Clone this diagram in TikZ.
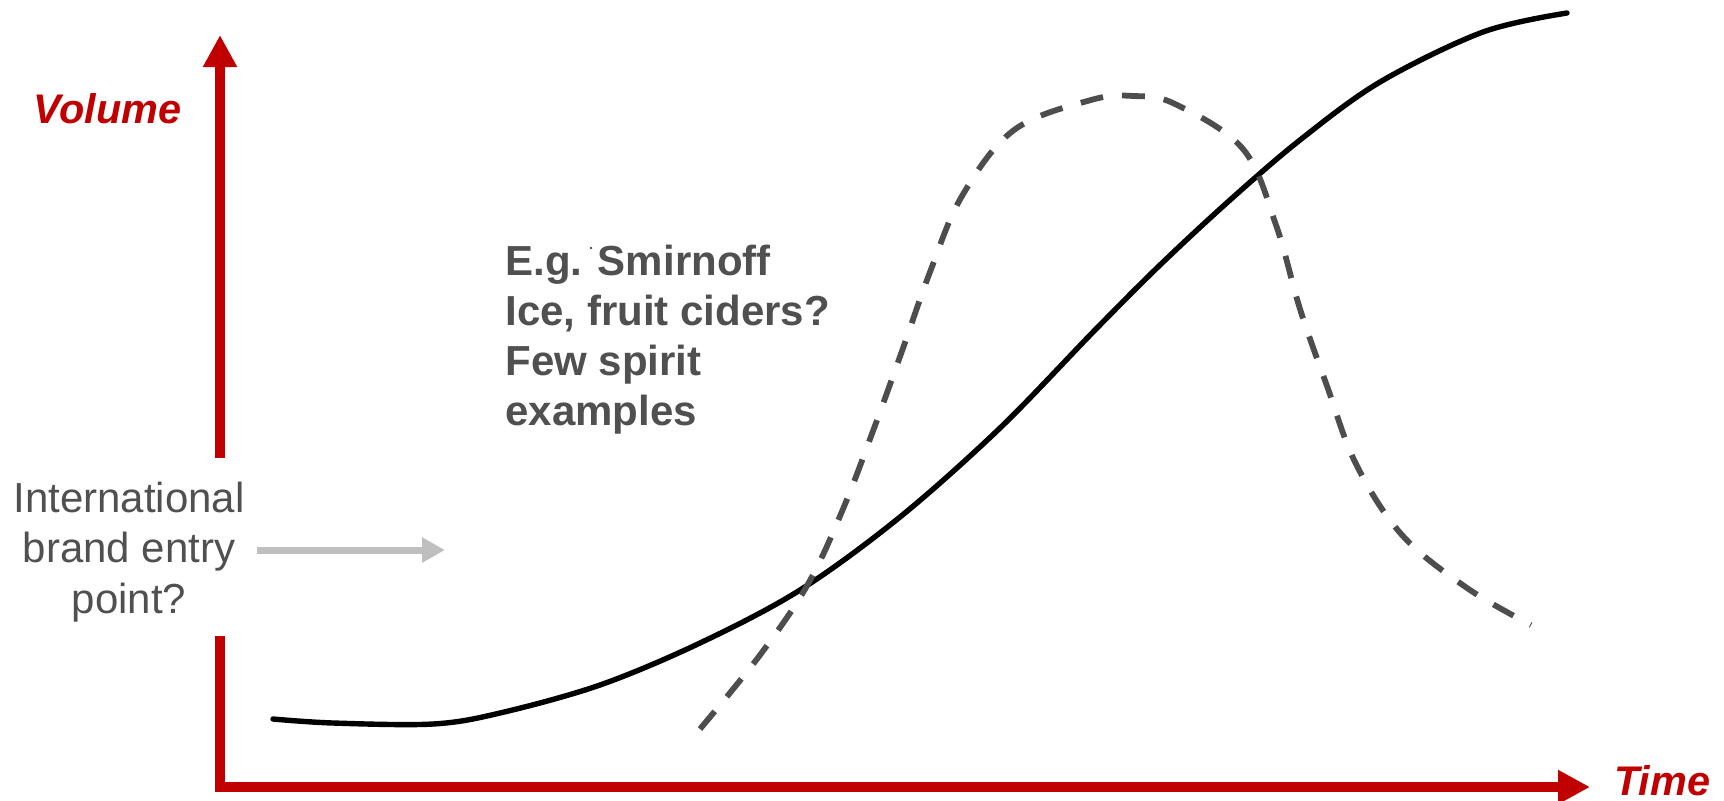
\documentclass[tikz,border=0pt]{standalone}
\usepackage{fontspec}
\setmainfont{Liberation Sans}
\usetikzlibrary{arrows.meta}
\definecolor{axisred}{HTML}{C00000}
\definecolor{txtgray}{HTML}{505050}
\definecolor{dashgray}{HTML}{4D4D4D}
\definecolor{arrgray}{HTML}{BFBFBF}
\tikzset{
  axisline/.style={draw=axisred, line width=5pt, line join=miter},
  axistip/.style={-{Triangle[length=16pt,width=16pt]}},
  axlabel/.style={text=axisred, font=\fontsize{20.7}{24}\selectfont\bfseries\itshape, inner sep=0pt},
  entrytext/.style={text=txtgray, font=\fontsize{21}{25.2}\selectfont, align=center, inner sep=0pt},
  notetext/.style={text=txtgray, font=\fontsize{21}{25}\selectfont\bfseries, align=left, inner sep=0pt},
  entryarrow/.style={draw=arrgray, line width=3.5pt, -{Triangle[length=11.5pt,width=12pt]}},
  volcurve/.style={draw=black, line width=2.7pt, line cap=round, line join=round},
  trendcurve/.style={draw=dashgray, line width=2.9pt, dash pattern=on 11.5pt off 9.5pt}
}
\begin{document}
\begin{tikzpicture}[x=0.5pt, y=-0.5pt]
\useasboundingbox (0,0) rectangle (1724,800);

% axes
\coordinate (origin) at (220,787);
\coordinate (ytip) at (220,35);
\coordinate (xtip) at (1590,787);
\coordinate (ybreaklow) at (220,636);
\coordinate (ybreakhigh) at (220,458);
\draw[axisline, axistip] (ybreaklow) -- (origin) -- (xtip);
\draw[axisline, axistip] (ybreakhigh) -- (ytip);

% axis labels
\node[axlabel, anchor=base west] (vol) at (33,123) {Volume};
\node[axlabel, anchor=base west, text depth=0pt] (time) at (1614,795) {Time};

% entry point label and arrow (base anchor = last line's baseline)
\node[entrytext, anchor=base] (entry) at (129,613) {International\\brand entry\\point?};
\coordinate (ea1) at (257,550);
\coordinate (ea2) at (445,550);
\draw[entryarrow] (ea1) -- (ea2);

% note
\node[notetext, anchor=base west] (note) at (505,425) {E.g. Smirnoff\\Ice, fruit ciders?\\Few spirit\\examples};
\fill[txtgray] (591,248) circle (1.3);

% solid volume curve
\draw[volcurve] plot[smooth, tension=0.55] coordinates {
  (273,719) (333,723) (433,724) (500,713) (600,685) (700,643) (800,590)
  (900,517) (1000,428) (1095,330) (1160,265) (1230,200)
  (1300,140) (1380,82) (1483,32) (1567,13)};

% dashed fad curve
\draw[trendcurve] plot[smooth, tension=0.6] coordinates {
  (700,729) (760,655) (808,584) (843,509) (873,431) (902,351) (930,272)
  (962,196) (1014,130) (1091,100) (1134,96) (1175,104) (1243,149) (1276,225)
  (1300,309) (1327,386) (1356,464) (1402,535) (1467,588) (1531,625)};
\end{tikzpicture}
\end{document}
